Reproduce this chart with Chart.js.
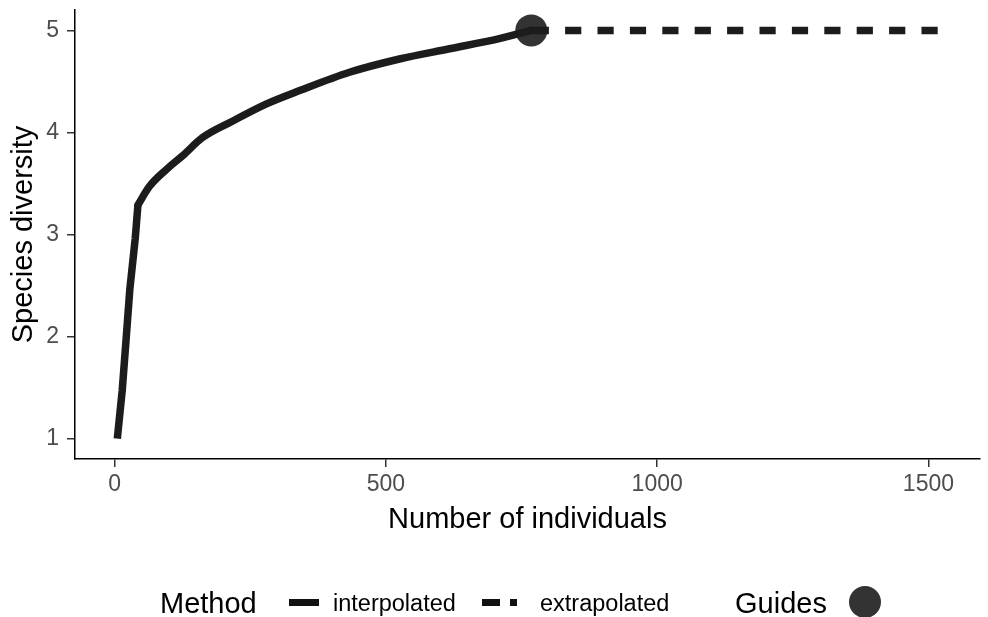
<!DOCTYPE html>
<html>
<head>
<meta charset="utf-8">
<script src="https://cdn.jsdelivr.net/npm/chart.js@4.4.1/dist/chart.umd.min.js"></script>
<style>
  html, body { margin: 0; padding: 0; background: #fff; }
  #wrap { position: relative; width: 988px; height: 617px; font-family: 'Liberation Sans', Arial, sans-serif; }
  #c { position: absolute; left: 0; top: 0; }
  .lg { position: absolute; white-space: nowrap; color: #000; line-height: 40px; top: 583px; }
  .key { position: absolute; background: #111; }
</style>
</head>
<body>
<div id="wrap">
  <canvas id="c" width="988" height="617"></canvas>
  <span class="lg" style="left:160px;font-size:29px;">Method</span>
  <div class="key" style="left:289px;top:599px;width:30px;height:7px;"></div>
  <span class="lg" style="left:333px;font-size:23.5px;">interpolated</span>
  <div class="key" style="left:482px;top:599px;width:18px;height:7px;"></div>
  <div class="key" style="left:510px;top:599px;width:7px;height:7px;"></div>
  <span class="lg" style="left:540px;font-size:23.5px;">extrapolated</span>
  <span class="lg" style="left:735px;font-size:29px;">Guides</span>
  <div class="key" style="left:849px;top:586px;width:32px;height:32px;border-radius:50%;background:#333;"></div>
</div>
<script>
// Rarefaction (interpolated) curve, steep initial rise
const sampleSizeRise      = [5, 14, 21, 28, 38, 43];
const diversityRise       = [1.0, 1.47, 1.96, 2.46, 2.96, 3.29];

// Rarefaction (interpolated) curve, slow approach to the observed value
const sampleSizeFlat      = [43, 64, 96, 125, 162, 217, 280, 341, 433, 525, 617, 709, 768];
const diversityFlat       = [3.29, 3.47, 3.64, 3.77, 3.95, 4.11, 4.28, 4.41, 4.59, 4.72, 4.82, 4.92, 5.0];

// Extrapolated part, from the reference sample size to twice that size
const extrapSize      = [768, 1520];
const diversityExtrap = [5.0, 5.0];

// Reference sample (observed point)
const referenceSize      = [768];
const referenceDiversity = [5.0];

const xTickValues = [0, 500, 1000, 1500];
const yTickValues = [1, 2, 3, 4, 5];

const toPoints = (xs, ys) => xs.map((x, i) => ({ x: x, y: ys[i] }));

const FONT = "'Liberation Sans', Arial, sans-serif";
const LINE = '#1c1c1c';

const solidLine = {
  borderColor: LINE,
  borderWidth: 7.5,
  pointRadius: 0,
  borderJoinStyle: 'round',
  fill: false
};

new Chart(document.getElementById('c'), {
  type: 'line',
  data: {
    datasets: [
      Object.assign({ label: 'interpolated', data: toPoints(sampleSizeRise, diversityRise), tension: 0, borderCapStyle: 'butt' }, solidLine),
      Object.assign({ label: 'interpolated', data: toPoints(sampleSizeFlat, diversityFlat), cubicInterpolationMode: 'monotone', borderCapStyle: 'round' }, solidLine),
      {
        label: 'extrapolated',
        data: toPoints(extrapSize, diversityExtrap),
        borderColor: LINE,
        borderWidth: 7.5,
        borderDash: [16.2, 16.2],
        borderDashOffset: -1.4,
        borderCapStyle: 'butt',
        pointRadius: 0,
        fill: false
      },
      {
        label: 'Guides',
        data: toPoints(referenceSize, referenceDiversity),
        showLine: false,
        pointRadius: 16,
        pointBackgroundColor: '#333333',
        pointBorderWidth: 0,
        pointHoverRadius: 16
      }
    ]
  },
  options: {
    responsive: false,
    animation: false,
    devicePixelRatio: 1,
    layout: { autoPadding: false, padding: { top: 10, right: 8, left: 0, bottom: 78 } },
    plugins: { legend: { display: false }, tooltip: { enabled: false } },
    events: [],
    scales: {
      x: {
        type: 'linear',
        min: -73,
        max: 1595,
        afterBuildTicks: s => { s.ticks = xTickValues.map(v => ({ value: v })); },
        afterFit: s => { s.height = 80; s.paddingLeft = 0; s.paddingRight = 0; },
        ticks: {
          autoSkip: false,
          maxRotation: 0,
          padding: 4,
          color: '#4d4d4d',
          font: { family: FONT, size: 23 },
          callback: v => String(v)
        },
        grid: { drawOnChartArea: false, drawTicks: true, tickLength: 8, color: '#333333', lineWidth: 1.5 },
        border: { display: true, color: '#000', width: 1.5 },
        title: {
          display: true,
          text: 'Number of individuals',
          color: '#000',
          font: { family: FONT, size: 29 },
          padding: { top: 0, bottom: 2 }
        }
      },
      y: {
        type: 'linear',
        min: 0.8,
        max: 5.2,
        afterBuildTicks: s => { s.ticks = yTickValues.map(v => ({ value: v })); },
        afterFit: s => { s.width = 75; s.paddingTop = 0; s.paddingBottom = 0; },
        ticks: {
          padding: 8,
          color: '#4d4d4d',
          font: { family: FONT, size: 23 },
          callback: v => String(v)
        },
        grid: { drawOnChartArea: false, drawTicks: true, tickLength: 8, color: '#333333', lineWidth: 1.5 },
        border: { display: true, color: '#000', width: 1.5 },
        title: {
          display: true,
          text: 'Species diversity',
          color: '#000',
          font: { family: FONT, size: 29 },
          padding: { top: 6.6, bottom: 0 }
        }
      }
    }
  }
});
</script>
</body>
</html>
